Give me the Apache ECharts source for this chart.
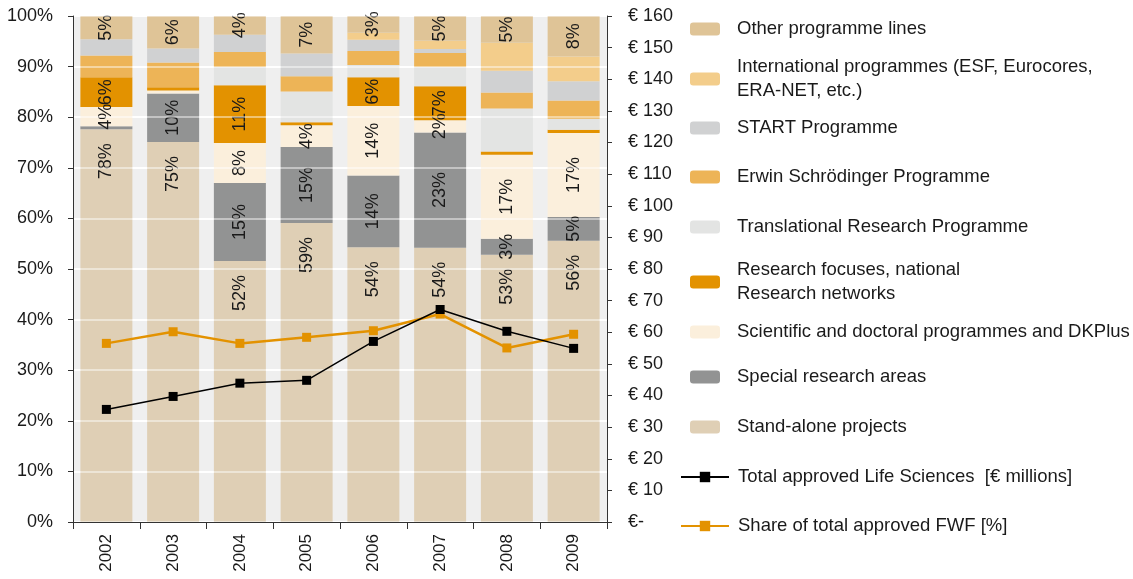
<!DOCTYPE html>
<html>
<head>
<meta charset="utf-8">
<script src="https://cdn.jsdelivr.net/npm/echarts@6/dist/echarts.min.js"></script>
<style>
  html, body { margin: 0; padding: 0; background: #ffffff; overflow: hidden; }
  #chart { width: 1133px; height: 579px; }
</style>
</head>
<body>
<div id="chart"></div>
<script>
// Years on the category axis
const years = ['2002', '2003', '2004', '2005', '2006', '2007', '2008', '2009'];

// Share of each programme line in the yearly Life Sciences total (%), bottom to top of the stack
const standAlone    = [77.6, 75.1, 51.6, 59.1, 54.3, 54.2, 52.8, 55.6];
const specialAreas  = [0.6, 9.6, 15.4, 15.0, 14.2, 22.8, 3.2, 4.7];
const doctoral      = [3.8, 0.6, 7.9, 4.3, 13.7, 2.4, 16.6, 16.6];
const focuses       = [5.9, 0.6, 11.4, 0.6, 5.7, 6.7, 0.6, 0.6];
const translational = [0, 0, 3.6, 6.1, 2.4, 3.8, 8.5, 2.2];
const schroedinger  = [4.3, 4.9, 3.0, 3.0, 2.8, 2.8, 3.2, 3.6];
const startProg     = [3.2, 2.8, 3.4, 4.5, 2.2, 0.8, 4.3, 3.8];
const international = [0, 0, 0, 0, 1.4, 1.6, 5.5, 4.9];
const otherLines    = [4.6, 6.4, 3.7, 7.4, 3.3, 4.9, 5.3, 8.0];

// Total approved in Life Sciences (EUR millions, right axis)
const totalApproved = [35.6, 39.7, 43.9, 44.8, 57.1, 67.2, 60.3, 54.9];
// Share of the total approved by the FWF (%, left axis)
const shareFwf      = [35.3, 37.6, 35.3, 36.5, 37.8, 41.1, 34.4, 37.1];

const N_OTHER = 'Other programme lines';
const N_INTL  = 'International programmes (ESF, Eurocores,\nERA-NET, etc.)';
const N_START = 'START Programme';
const N_SCHR  = 'Erwin Schrödinger Programme';
const N_TRANS = 'Translational Research Programme';
const N_FOCUS = 'Research focuses, national\nResearch networks';
const N_DOC   = 'Scientific and doctoral programmes and DKPlus';
const N_SFB   = 'Special research areas';
const N_SOLO  = 'Stand-alone projects';
const N_TOTAL = 'Total approved Life Sciences  [€ millions]';
const N_SHARE = 'Share of total approved FWF [%]';

const FONT = "'Liberation Sans', Arial, sans-serif";
const INK = '#1a1a1a';

function pctLabel(p) {
  return p.value >= 1.5 ? Math.round(p.value) + '%' : '';
}

function barSeries(name, data, color, labelled, topAnchored) {
  const label = {
    show: labelled,
    position: 'inside',
    rotate: 90,
    fontFamily: FONT,
    fontSize: 18,
    color: INK,
    formatter: pctLabel
  };
  if (topAnchored) {
    // value text hangs just below the top edge of the segment
    label.position = 'insideTop';
    label.distance = 14;
    label.align = 'right';
    label.verticalAlign = 'middle';
  }
  return {
    name: name,
    type: 'bar',
    stack: 'share',
    data: data,
    barWidth: 52,
    z: 2,
    itemStyle: { color: color },
    emphasis: { disabled: true },
    label: label
  };
}

// Legend rows: name, vertical centre, number of text lines, line-series flag
const legendRows = [
  [N_OTHER, 29, 1, false],
  [N_INTL, 79, 2, false],
  [N_START, 128, 1, false],
  [N_SCHR, 177, 1, false],
  [N_TRANS, 227, 1, false],
  [N_FOCUS, 282, 2, false],
  [N_DOC, 332, 1, false],
  [N_SFB, 377, 1, false],
  [N_SOLO, 427, 1, false],
  [N_TOTAL, 477, 1, true],
  [N_SHARE, 526, 1, true]
];

const chart = echarts.init(document.getElementById('chart'), null, { renderer: 'canvas' });

chart.setOption({
  animation: false,
  backgroundColor: '#ffffff',
  grid: {
    left: 73, right: 526, top: 16, bottom: 57,
    show: true, backgroundColor: '#efefef', borderWidth: 0
  },
  legend: legendRows.map(function (r) {
    return {
      data: [r[0]],
      left: r[3] ? 680 : 690,
      top: r[1] - 12 * r[2],
      padding: 0,
      itemWidth: r[3] ? 48 : 30,
      itemHeight: 13,
      selectedMode: false,
      textStyle: {
        fontFamily: FONT, fontSize: 18.5, lineHeight: 24, color: INK,
        padding: [0, 0, 0, r[3] ? 4 : 12]
      }
    };
  }),
  xAxis: [
    {
      type: 'category',
      data: years,
      z: 4,
      axisLine: { show: true, lineStyle: { color: '#333333', width: 1 } },
      axisTick: { show: true, length: 7, lineStyle: { color: '#333333' } },
      axisLabel: { rotate: 90, margin: 12, fontFamily: FONT, fontSize: 17, color: INK }
    },
    {
      type: 'category',
      data: years,
      position: 'top',
      z: 4,
      axisLine: { show: true, lineStyle: { color: '#333333', width: 1 } },
      axisTick: { show: false },
      axisLabel: { show: false }
    }
  ],
  yAxis: [
    {
      // percent axis; its grid lines lie faintly over the bars
      type: 'value',
      position: 'left',
      min: 0, max: 100, interval: 10,
      z: 3,
      axisLine: { show: true, lineStyle: { color: '#333333', width: 1 } },
      axisTick: { show: true, length: 5, lineStyle: { color: '#333333' } },
      axisLabel: { formatter: '{value}%', margin: 20, fontFamily: FONT, fontSize: 18, color: INK },
      splitLine: { show: true, lineStyle: { color: 'rgba(255,255,255,0.45)', width: 2 } }
    },
    {
      type: 'value',
      position: 'right',
      min: 0, max: 160, interval: 10,
      z: 3,
      axisLine: { show: true, lineStyle: { color: '#333333', width: 1 } },
      axisTick: { show: true, length: 5, lineStyle: { color: '#333333' } },
      axisLabel: {
        margin: 21, fontFamily: FONT, fontSize: 18, color: INK,
        formatter: function (v) { return v === 0 ? '€-' : '€ ' + v; }
      },
      splitLine: { show: false }
    },
    {
      // same percent scale, solid white grid lines on the plot background behind the bars
      type: 'value',
      position: 'left',
      min: 0, max: 100, interval: 10,
      z: 0,
      axisLine: { show: false },
      axisTick: { show: false },
      axisLabel: { show: false },
      splitLine: { show: true, lineStyle: { color: '#ffffff', width: 2 } }
    }
  ],
  series: [
    barSeries(N_SOLO, standAlone, '#dfcfb5', true, true),
    barSeries(N_SFB, specialAreas, '#929393', true, false),
    barSeries(N_DOC, doctoral, '#fbefdc', true, false),
    barSeries(N_FOCUS, focuses, '#e39200', true, false),
    barSeries(N_TRANS, translational, '#e3e4e3', false, false),
    barSeries(N_SCHR, schroedinger, '#edb457', false, false),
    barSeries(N_START, startProg, '#d0d1d2', false, false),
    barSeries(N_INTL, international, '#f3cd8b', false, false),
    barSeries(N_OTHER, otherLines, '#dfc497', true, false),
    {
      name: N_TOTAL,
      type: 'line',
      yAxisIndex: 1,
      data: totalApproved,
      z: 6,
      symbol: 'rect',
      symbolSize: 9,
      lineStyle: { color: '#000000', width: 1.5 },
      itemStyle: { color: '#000000' },
      emphasis: { disabled: true }
    },
    {
      name: N_SHARE,
      type: 'line',
      yAxisIndex: 0,
      data: shareFwf,
      z: 5,
      symbol: 'rect',
      symbolSize: 9,
      lineStyle: { color: '#e39200', width: 2.5 },
      itemStyle: { color: '#e39200' },
      emphasis: { disabled: true }
    }
  ]
});
</script>
</body>
</html>
